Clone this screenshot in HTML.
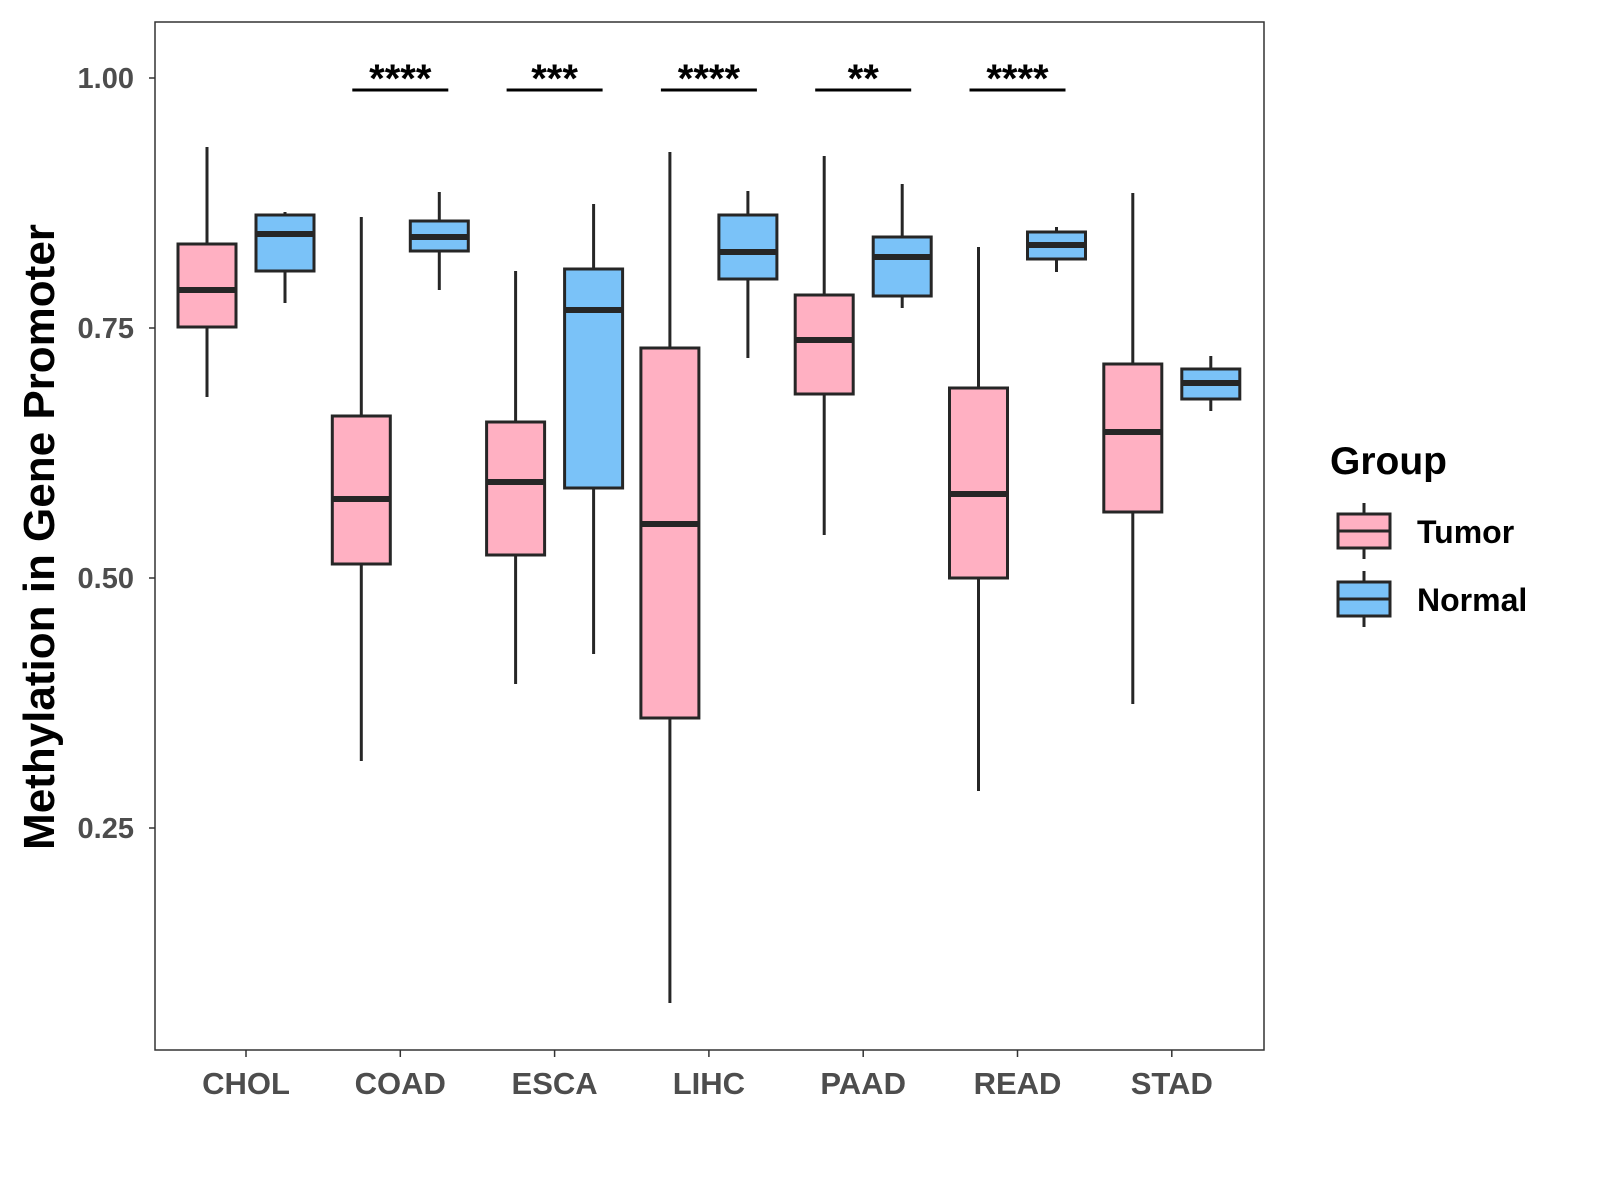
<!DOCTYPE html>
<html><head><meta charset="utf-8"><style>
body{margin:0;background:#fff;}
svg{display:block;font-family:"Liberation Sans",Arial,sans-serif;}
</style></head><body>
<svg id="chart" width="1600" height="1200" viewBox="0 0 1600 1200"></svg>
<script>
const categories=["CHOL","COAD","ESCA","LIHC","PAAD","READ","STAD"];
const tumorStats=[[0.681,0.751,0.788,0.834,0.931],[0.317,0.514,0.579,0.662,0.861],[0.394,0.523,0.596,0.656,0.807],[0.075,0.360,0.554,0.730,0.926],[0.543,0.684,0.738,0.783,0.922],[0.287,0.500,0.584,0.690,0.831],[0.374,0.566,0.646,0.714,0.885]];
const normalStats=[[0.775,0.807,0.844,0.863,0.866],[0.788,0.827,0.841,0.857,0.886],[0.424,0.590,0.768,0.809,0.874],[0.720,0.799,0.826,0.863,0.887],[0.770,0.782,0.821,0.841,0.894],[0.806,0.819,0.833,0.846,0.851],[0.667,0.679,0.695,0.709,0.722]];
const sigLabels=["","****","***","****","**","****",""];
const yTicks=[0.25,0.5,0.75,1.0];
const yTickLabels=["0.25","0.50","0.75","1.00"];
const NS="http://www.w3.org/2000/svg";
const svg=document.getElementById('chart');
const y=v=>78+(1-v)*1000;
const x=i=>246+i*154.3;
function el(t,a,p){const e=document.createElementNS(NS,t);for(const k in a)e.setAttribute(k,a[k]);(p||svg).appendChild(e);return e;}
const frame=el('rect',{x:155,y:22,width:1109,height:1028,fill:'none',stroke:'#333','stroke-width':1.5});


yTicks.forEach((v,i)=>{
  el('line',{x1:149,x2:155,y1:y(v),y2:y(v),stroke:'#333','stroke-width':1.5});
  const t=el('text',{x:134,y:y(v)+10,'text-anchor':'end','font-size':29,'font-weight':'bold',fill:'#4d4d4d'});
  t.textContent=yTickLabels[i];
  
  
});
function box(cx,s,fill,name){
  const g=el('g',{});
  
  
  el('line',{x1:cx,x2:cx,y1:y(s[0]),y2:y(s[4]),stroke:'#262626','stroke-width':3},g);
  el('rect',{x:cx-29,y:y(s[3]),width:58,height:y(s[1])-y(s[3]),fill:fill,stroke:'#262626','stroke-width':3},g);
  el('line',{x1:cx-29,x2:cx+29,y1:y(s[2]),y2:y(s[2]),stroke:'#262626','stroke-width':6},g);
}
categories.forEach((c,i)=>{
  const cx=x(i);
  box(cx-39,tumorStats[i],'#FFB0C2','box-tumor-'+c.toLowerCase());
  box(cx+39,normalStats[i],'#7AC2F8','box-normal-'+c.toLowerCase());
  el('line',{x1:cx,x2:cx,y1:1050,y2:1057,stroke:'#333','stroke-width':1.5});
  const t=el('text',{x:cx,y:1094,'text-anchor':'middle','font-size':31,'font-weight':'bold',fill:'#4d4d4d'});
  t.textContent=c;
  
  
  if(sigLabels[i]){
    el('line',{x1:cx-48,x2:cx+48,y1:90,y2:90,stroke:'#000','stroke-width':3});
    const s=el('text',{x:cx,y:92,'text-anchor':'middle','font-size':40,'font-weight':'bold',fill:'#000'});
    s.textContent=sigLabels[i];
    
    
  }
});
</script>
<svg style="position:absolute;left:0;top:0" width="1600" height="1200">
<text x="54" y="537" transform="rotate(-90 54 537)" text-anchor="middle" font-size="44" font-weight="bold" fill="#000" font-family="Liberation Sans,sans-serif">Methylation in Gene Promoter</text>
<g font-family="Liberation Sans,sans-serif">
<text x="1330" y="474" font-size="39" font-weight="bold">Group</text>
<g>
<line x1="1364" x2="1364" y1="503" y2="559" stroke="#262626" stroke-width="3"/>
<rect x="1338" y="514" width="52" height="34" fill="#FFB0C2" stroke="#262626" stroke-width="3"/>
<line x1="1338" x2="1390" y1="531" y2="531" stroke="#262626" stroke-width="3"/>
<text x="1417" y="543" font-size="32" font-weight="bold">Tumor</text></g>
<g>
<line x1="1364" x2="1364" y1="571" y2="627" stroke="#262626" stroke-width="3"/>
<rect x="1338" y="582" width="52" height="34" fill="#7AC2F8" stroke="#262626" stroke-width="3"/>
<line x1="1338" x2="1390" y1="599" y2="599" stroke="#262626" stroke-width="3"/>
<text x="1417" y="611" font-size="32" font-weight="bold">Normal</text></g>
</g></svg>
</body></html>
